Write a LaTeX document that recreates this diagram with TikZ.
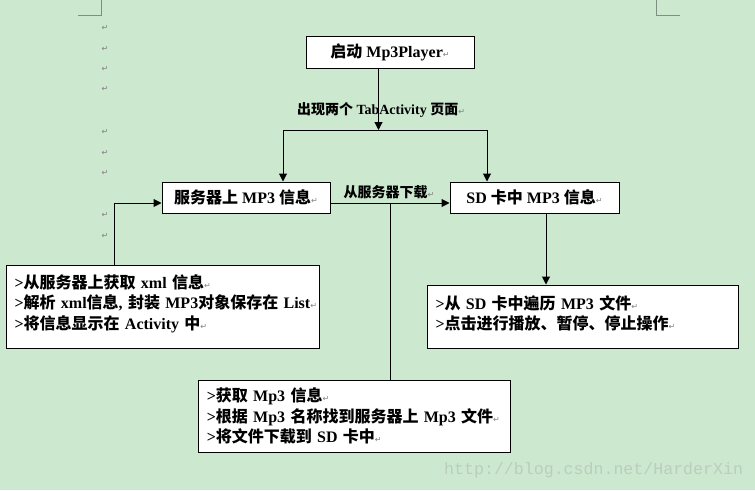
\documentclass[tikz,border=0pt]{standalone}
\usepackage{fontspec}
\setmainfont{Liberation Serif}
\newfontfamily\cjk{Noto Sans CJK SC}
\newfontfamily\djv{DejaVu Sans}
\newfontfamily\wmfont{Liberation Mono}
\usetikzlibrary{arrows.meta}
\definecolor{bg}{RGB}{204,232,207}
\definecolor{markgray}{RGB}{128,128,128}
\definecolor{cornergray}{RGB}{128,142,128}
\definecolor{wmgray}{RGB}{187,205,190}
\newcommand\zh[1]{{\cjk\bfseries #1}}
\newcommand\rt{{\djv\mdseries\fontsize{8}{8}\selectfont\color{markgray}↵}}
\begin{document}
\begin{tikzpicture}[x=1pt,y=-1pt,
  box/.style={draw=black,line width=1pt,fill=white,inner xsep=8.5pt,inner ysep=0pt,
    font=\fontsize{16}{20.5}\selectfont\bfseries},
  txtbox/.style={box,align=left},
  lbl/.style={inner sep=0pt,font=\fontsize{14}{16}\selectfont\bfseries},
  link/.style={line width=1pt,draw=black},
  arr/.style={link,-{Triangle[length=8pt,width=8pt]}},
  retmark/.style={inner sep=0pt,text=markgray,font=\djv\fontsize{8}{8}\selectfont},
  corner/.style={draw=cornergray,line width=1pt}]

\fill[bg] (0,0) rectangle (755,490);
\useasboundingbox (0,0) rectangle (755,490);

% page corner marks
\draw[corner] (78,15) -- (101,15) -- (101,0);
\draw[corner] (656,0) -- (656,15) -- (680,15);

% paragraph marks in margin
\foreach \yy [count=\i] in {28,49,69,89,132,153,173,215,236}
  \node[retmark] (ret\i) at (105,\yy) {↵};

% boxes
\node[box, minimum width=168pt, minimum height=32pt] (start) at (390,52) {\zh{启动} Mp3Player\rt};
\node[box, minimum width=168pt, minimum height=31pt] (server) at (246,197.5) {\zh{服务器上} MP3 \zh{信息}\rt};
\node[box, minimum width=169pt, minimum height=31pt] (sd) at (534.5,197.5) {SD \zh{卡中} MP3 \zh{信息}\rt};

\node[txtbox, text width=296pt, minimum height=83pt, text depth=50pt] (srvinfo) at (162.5,306.5)
  {\mbox{>\zh{从服务器上获取} xml \zh{信息}\rt}\\
   \mbox{>\zh{解析} xml\zh{信息}, \zh{封装} MP3\zh{对象保存在} List\rt}\\
   \mbox{>\zh{将信息显示在} Activity \zh{中}\rt}};
\node[txtbox, text width=294pt, minimum height=63pt, text depth=28pt] (sdinfo) at (582.5,316.5)
  {\mbox{>\zh{从} SD \zh{卡中遍历} MP3 \zh{文件}\rt}\\
   \mbox{>\zh{点击进行播放、暂停、停止操作}\rt}};
\node[txtbox, text width=295.5pt, minimum height=72pt] (dl) at (354.5,416)
  {\mbox{>\zh{获取} Mp3 \zh{信息}\rt}\\
   \mbox{>\zh{根据} Mp3 \zh{名称找到服务器上} Mp3 \zh{文件}\rt}\\
   \mbox{>\zh{将文件下载到} SD \zh{卡中}\rt}};

% connector labels
\node[lbl] (tablbl) at (381,110) {\zh{出现两个} TabActivity \zh{页面}\rt};
\node[lbl] (dllbl) at (389,192) {\zh{从服务器下载}\rt};

% connectors
\coordinate (split) at (378.5,130);
\coordinate (jl) at (283,130);
\coordinate (jr) at (487,130);
\draw[arr] (start.south -| split) -- (split);
\draw[link] (jl) -- (jr);
\draw[arr] (jl) -- (jl |- server.north);
\draw[arr] (jr) -- (jr |- sd.north);

\coordinate (row) at (0,203);
\coordinate (fork) at (390.5,203);
\draw[arr] (server.east |- row) -- (sd.west |- row);
\draw[link] (fork) -- (dl.north -| fork);

\coordinate (lx) at (114.5,0);
\draw[arr] (srvinfo.north -| lx) |- (server.west |- row);

\coordinate (rx) at (546,0);
\draw[arr] (sd.south -| rx) -- (sdinfo.north -| rx);

% watermark
\node[anchor=west, inner sep=0pt, text=wmgray, font=\wmfont\fontsize{16.6}{18}\selectfont] (wm) at (444,470)
  {http://blog.csdn.net/HarderXin};
\end{tikzpicture}
\end{document}
